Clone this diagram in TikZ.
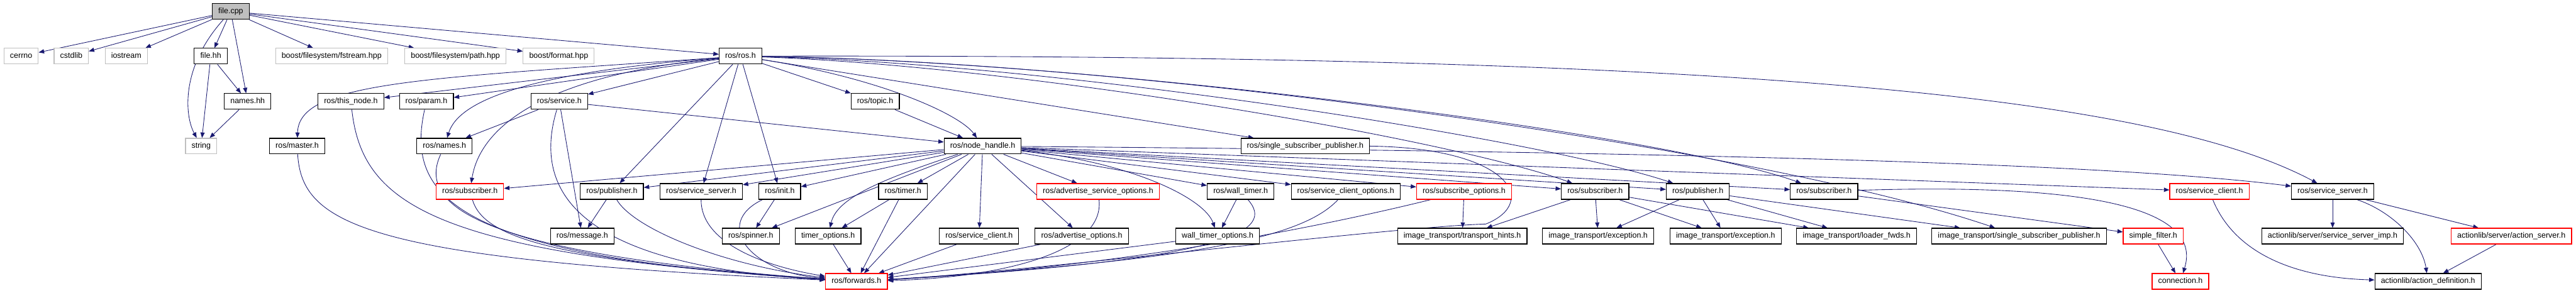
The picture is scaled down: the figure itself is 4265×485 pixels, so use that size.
\documentclass[tikz,border=0pt]{standalone}
\usepackage{fontspec}
\setmainfont{Liberation Sans}
\usepackage{tikz}
\usetikzlibrary{arrows.meta}

\definecolor{edgeblue}{HTML}{191970}
\definecolor{sysgray}{HTML}{BFBFBF}
\definecolor{truncred}{HTML}{FF0000}

\pgfdeclarelayer{background}
\pgfsetlayers{background,main}

\tikzset{
  box/.style={draw, line width=1.2pt, minimum height=26pt, inner xsep=10pt, inner ysep=0pt,
    text height=9.5pt, text depth=3pt, font=\fontsize{13}{15}\selectfont, fill=white},
  hdr/.style={box, draw=black},
  sys/.style={box, draw=sysgray},
  trunc/.style={box, draw=truncred},
  incl/.style={draw=edgeblue, line width=0.9pt, -{Triangle[length=9pt,width=7pt]}}
}

\begin{document}
\begin{tikzpicture}[x=1pt,y=-1pt]
\useasboundingbox (0,0) rectangle (4265,485);

% row 0 and 1
\node[hdr, fill=sysgray] (filecpp) at (382,19) {file.cpp};
\node[sys] (cerrno) at (35,93) {cerrno};
\node[sys] (cstdlib) at (118,93) {cstdlib};
\node[sys] (iostream) at (209,93) {iostream};
\node[hdr] (filehh) at (349,93) {file.hh};
\node[sys] (bfstream) at (549,93) {boost/filesystem/fstream.hpp};
\node[sys] (bpath) at (754,93) {boost/filesystem/path.hpp};
\node[sys] (bformat) at (925,93) {boost/format.hpp};
\node[hdr] (rosh) at (1226,93) {ros/ros.h};

% row 2
\node[hdr] (nameshh) at (410,168) {names.hh};
\node[hdr] (thisnode) at (581,168) {ros/this\_node.h};
\node[hdr] (param) at (706,168) {ros/param.h};
\node[hdr] (service) at (926,168) {ros/service.h};
\node[hdr] (topic) at (1449,168) {ros/topic.h};

% row 3
\node[sys] (string) at (333,242) {string};
\node[hdr] (master) at (492,242) {ros/master.h};
\node[hdr] (rnames) at (736,242) {ros/names.h};
\node[hdr] (nodehandle) at (1627,242) {ros/node\_handle.h};
\node[hdr] (sspub) at (2161,242) {ros/single\_subscriber\_publisher.h};

% row 4
\node[trunc] (subA) at (778,317) {ros/subscriber.h};
\node[hdr] (pubA) at (1013,317) {ros/publisher.h};
\node[hdr] (ssrvA) at (1161,317) {ros/service\_server.h};
\node[hdr] (init) at (1291,317) {ros/init.h};
\node[hdr] (timer) at (1495,317) {ros/timer.h};
\node[trunc] (asopt) at (1818,317) {ros/advertise\_service\_options.h};
\node[hdr] (wtimer) at (2054,317) {ros/wall\_timer.h};
\node[hdr] (scopt) at (2228,317) {ros/service\_client\_options.h};
\node[trunc] (subopt) at (2424,317) {ros/subscribe\_options.h};
\node[hdr] (subB) at (2641,317) {ros/subscriber.h};
\node[hdr] (pubB) at (2811,317) {ros/publisher.h};
\node[hdr] (subC) at (3020,317) {ros/subscriber.h};
\node[trunc] (sclient) at (3658,317) {ros/service\_client.h};
\node[hdr] (ssrvB) at (3862,317) {ros/service\_server.h};

% row 5
\node[hdr] (message) at (964,391) {ros/message.h};
\node[hdr] (spinner) at (1243,391) {ros/spinner.h};
\node[hdr] (timeropt) at (1371,391) {timer\_options.h};
\node[hdr] (sclienth) at (1621,391) {ros/service\_client.h};
\node[hdr] (advopt) at (1791,391) {ros/advertise\_options.h};
\node[hdr] (wtopt) at (2016,391) {wall\_timer\_options.h};
\node[hdr] (thints) at (2421,391) {image\_transport/transport\_hints.h};
\node[hdr] (excA) at (2646,391) {image\_transport/exception.h};
\node[hdr] (excB) at (2857,391) {image\_transport/exception.h};
\node[hdr] (loader) at (3074,391) {image\_transport/loader\_fwds.h};
\node[hdr] (itsspub) at (3343,391) {image\_transport/single\_subscriber\_publisher.h};
\node[trunc] (sfilter) at (3565,391) {simple\_filter.h};
\node[hdr] (ssimp) at (3862,391) {actionlib/server/service\_server\_imp.h};
\node[trunc] (aserver) at (4158,391) {actionlib/server/action\_server.h};

% row 6
\node[trunc] (forwards) at (1418,466) {ros/forwards.h};
\node[trunc] (connection) at (3610,466) {connection.h};
\node[hdr] (adef) at (4020,466) {actionlib/action\_definition.h};

\begin{pgfonlayer}{background}
% straight includes
\foreach \a/\b in {filecpp/cerrno, filecpp/cstdlib, filecpp/iostream, filecpp/filehh,
    filecpp/nameshh, filecpp/bfstream, filecpp/bpath, filecpp/bformat, filecpp/rosh,
    filehh/string, filehh/nameshh, nameshh/string,
    rosh/thisnode, rosh/param, rosh/service, rosh/topic, rosh/pubA, rosh/ssrvA, rosh/init, rosh/sspub,
    service/rnames, service/message, service/nodehandle, topic/nodehandle, pubA/message,
    nodehandle/subA, nodehandle/pubA, nodehandle/ssrvA, nodehandle/init, nodehandle/spinner,
    nodehandle/timer, nodehandle/forwards, nodehandle/sclienth, nodehandle/asopt, nodehandle/advopt,
    nodehandle/wtimer, nodehandle/scopt, nodehandle/subopt, nodehandle/subB, nodehandle/pubB,
    nodehandle/subC, nodehandle/sclient,
    init/spinner, timer/timeropt, timer/forwards, timeropt/forwards, sclienth/forwards,
    advopt/forwards, wtimer/wtopt, wtopt/forwards, subopt/thints,
    subB/thints, subB/excA, subB/excB, subB/loader, pubB/excA, pubB/excB, pubB/loader, pubB/itsspub,
    subC/sfilter, sfilter/connection, ssrvB/ssimp, ssrvB/aserver, aserver/adef}
  \draw[incl] (\a) -- (\b);

% curved includes
\draw[incl] (filecpp) .. controls (300,110) and (305,190) .. (string);
\draw[incl] (rosh) .. controls (700,130) and (495,135) .. (master);
\draw[incl] (rosh) .. controls (880,120) and (760,165) .. (rnames);
\draw[incl] (rosh) .. controls (900,125) and (795,210) .. (subA);
\draw[incl] (rosh) .. controls (1460,130) and (1590,190) .. (nodehandle);
\draw[incl] (rosh) .. controls (1700,110) and (2400,230) .. (subB);
\draw[incl] (rosh) .. controls (1750,105) and (2550,230) .. (pubB);
\draw[incl] (rosh) .. controls (1800,100) and (2750,220) .. (subC);
\draw[incl] (rosh) .. controls (1850,100) and (2900,240) .. (itsspub);
\draw[incl] (rosh) .. controls (2800,90) and (3550,150) .. (ssrvB);
\draw[incl] (nodehandle) .. controls (2600,250) and (3450,265) .. (ssrvB);
\draw[incl] (service) .. controls (880,320) and (960,440) .. (forwards);
\draw[incl] (thisnode) .. controls (600,340) and (720,420) .. (forwards);
\draw[incl] (param) .. controls (670,330) and (760,425) .. (forwards);
\draw[incl] (master) .. controls (500,370) and (600,430) .. (forwards);
\draw[incl] (rnames) .. controls (690,340) and (790,420) .. (forwards);
\draw[incl] (subA) .. controls (800,390) and (900,430) .. (forwards);
\draw[incl] (pubA) .. controls (1050,380) and (1200,440) .. (forwards);
\draw[incl] (ssrvA) .. controls (1160,400) and (1260,440) .. (forwards);
\draw[incl] (init) .. controls (1180,370) and (1240,450) .. (forwards);
\draw[incl] (nodehandle) .. controls (1450,300) and (1385,330) .. (timeropt);
\draw[incl] (nodehandle) .. controls (1880,270) and (1995,330) .. (wtopt);
\draw[incl] (asopt) .. controls (1830,420) and (1650,460) .. (forwards);
\draw[incl] (wtimer) .. controls (2110,380) and (2050,430) .. (forwards);
\draw[incl] (scopt) .. controls (2160,390) and (2000,430) .. (forwards);
\draw[incl] (subopt) .. controls (2250,360) and (1900,440) .. (forwards);
\draw[incl] (sspub.east) .. controls (2500,245) and (2550,335) .. (2460,371)
  .. controls (2300,376) and (1700,450) .. (forwards);
\draw[incl] (subC) .. controls (3550,300) and (3640,370) .. (connection);
\draw[incl] (sclient) .. controls (3700,420) and (3800,460) .. (adef);
\draw[incl] (ssrvB) .. controls (3960,350) and (4010,400) .. (adef);
\end{pgfonlayer}
\end{tikzpicture}
\end{document}
